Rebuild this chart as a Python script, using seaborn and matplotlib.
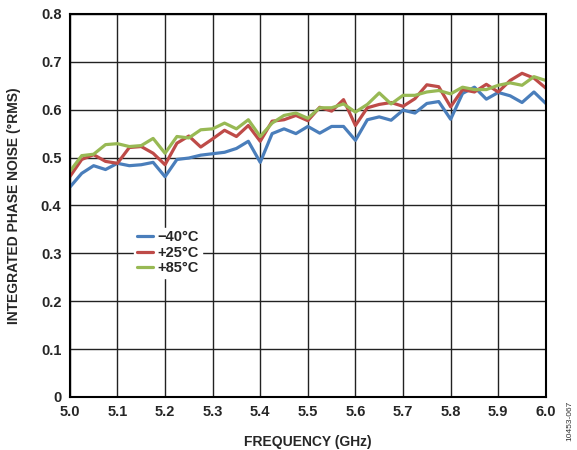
import numpy as np
import pandas as pd
import matplotlib
matplotlib.use('Agg')
import matplotlib.pyplot as plt
import seaborn as sns

# frequency points (GHz), 25 MHz step
freq = [5.000, 5.025, 5.050, 5.075, 5.100, 5.125, 5.150, 5.175, 5.200, 5.225,
        5.250, 5.275, 5.300, 5.325, 5.350, 5.375, 5.400, 5.425, 5.450, 5.475,
        5.500, 5.525, 5.550, 5.575, 5.600, 5.625, 5.650, 5.675, 5.700, 5.725,
        5.750, 5.775, 5.800, 5.825, 5.850, 5.875, 5.900, 5.925, 5.950, 5.975,
        6.000]

noise_m40 = [0.438, 0.467, 0.483, 0.475, 0.488, 0.483, 0.485, 0.490, 0.460, 0.496,
             0.499, 0.505, 0.508, 0.511, 0.519, 0.534, 0.490, 0.550, 0.560, 0.550,
             0.565, 0.551, 0.565, 0.565, 0.536, 0.579, 0.585, 0.578, 0.599, 0.593,
             0.613, 0.617, 0.580, 0.634, 0.647, 0.622, 0.636, 0.629, 0.615, 0.637,
             0.613]

noise_p25 = [0.460, 0.496, 0.506, 0.492, 0.488, 0.521, 0.523, 0.509, 0.485, 0.530,
             0.545, 0.522, 0.539, 0.557, 0.544, 0.567, 0.534, 0.576, 0.579, 0.588,
             0.577, 0.605, 0.597, 0.621, 0.567, 0.604, 0.611, 0.615, 0.607, 0.623,
             0.652, 0.648, 0.606, 0.642, 0.637, 0.653, 0.637, 0.661, 0.676, 0.666,
             0.645]

noise_p85 = [0.471, 0.504, 0.507, 0.527, 0.529, 0.523, 0.525, 0.540, 0.509, 0.544,
             0.541, 0.558, 0.560, 0.572, 0.560, 0.579, 0.544, 0.572, 0.588, 0.593,
             0.582, 0.604, 0.604, 0.612, 0.595, 0.611, 0.635, 0.612, 0.630, 0.630,
             0.637, 0.640, 0.633, 0.647, 0.642, 0.642, 0.651, 0.656, 0.651, 0.669,
             0.661]

labels = ['\u221240°C', '+25°C', '+85°C']
colors = ['#4a7ebb', '#be4b48', '#98b954']

df = pd.DataFrame({
    'freq': freq * 3,
    'noise': noise_m40 + noise_p25 + noise_p85,
    'temp': [labels[0]] * len(freq) + [labels[1]] * len(freq) + [labels[2]] * len(freq),
})

sns.set_style('white')
plt.rcParams['font.family'] = ['Liberation Sans', 'DejaVu Sans']
plt.rcParams['font.weight'] = 'bold'

fig = plt.figure(figsize=(5.77, 4.5), dpi=100)
ax = fig.add_axes([0.121, 0.118, 0.825, 0.851])

sns.lineplot(data=df, x='freq', y='noise', hue='temp', palette=colors,
             linewidth=2.3, ax=ax)

ax.set_xlim(5.0, 6.0)
ax.set_ylim(0, 0.8)
ax.set_xticks(np.arange(5.0, 6.01, 0.1))
ax.set_xticklabels([f'{v:.1f}' for v in np.arange(5.0, 6.01, 0.1)], fontsize=10.5, fontweight='bold')
ax.set_yticks(np.arange(0, 0.81, 0.1))
ax.set_yticklabels(['0'] + [f'{v:.1f}' for v in np.arange(0.1, 0.81, 0.1)], fontsize=10.5, fontweight='bold')
ax.tick_params(length=0, pad=6)
ax.grid(True, color='#222222', linewidth=1.0)
ax.set_axisbelow(True)
for s in ax.spines.values():
    s.set_color('black')
    s.set_linewidth(1.5)

ax.set_xlabel('FREQUENCY (GHz)', fontsize=10, fontweight='bold', labelpad=11)
ax.set_ylabel('INTEGRATED PHASE NOISE (°RMS)', fontsize=10, fontweight='bold', labelpad=14)

leg = ax.legend(loc='center left', bbox_to_anchor=(0.12, 0.376), frameon=True,
                fontsize=10.5, handlelength=1.1, handletextpad=0.3,
                labelspacing=0.1, borderpad=0.2, title=None)
leg.get_frame().set_edgecolor('white')
leg.get_frame().set_facecolor('white')
leg.get_frame().set_alpha(1)
for t in leg.get_texts():
    t.set_fontweight('bold')

fig.text(0.988, 0.02, '10453-067', rotation=90, fontsize=6, fontweight='normal',
         ha='center', va='bottom', color='#333333')

fig.savefig('out.png', dpi=100)
